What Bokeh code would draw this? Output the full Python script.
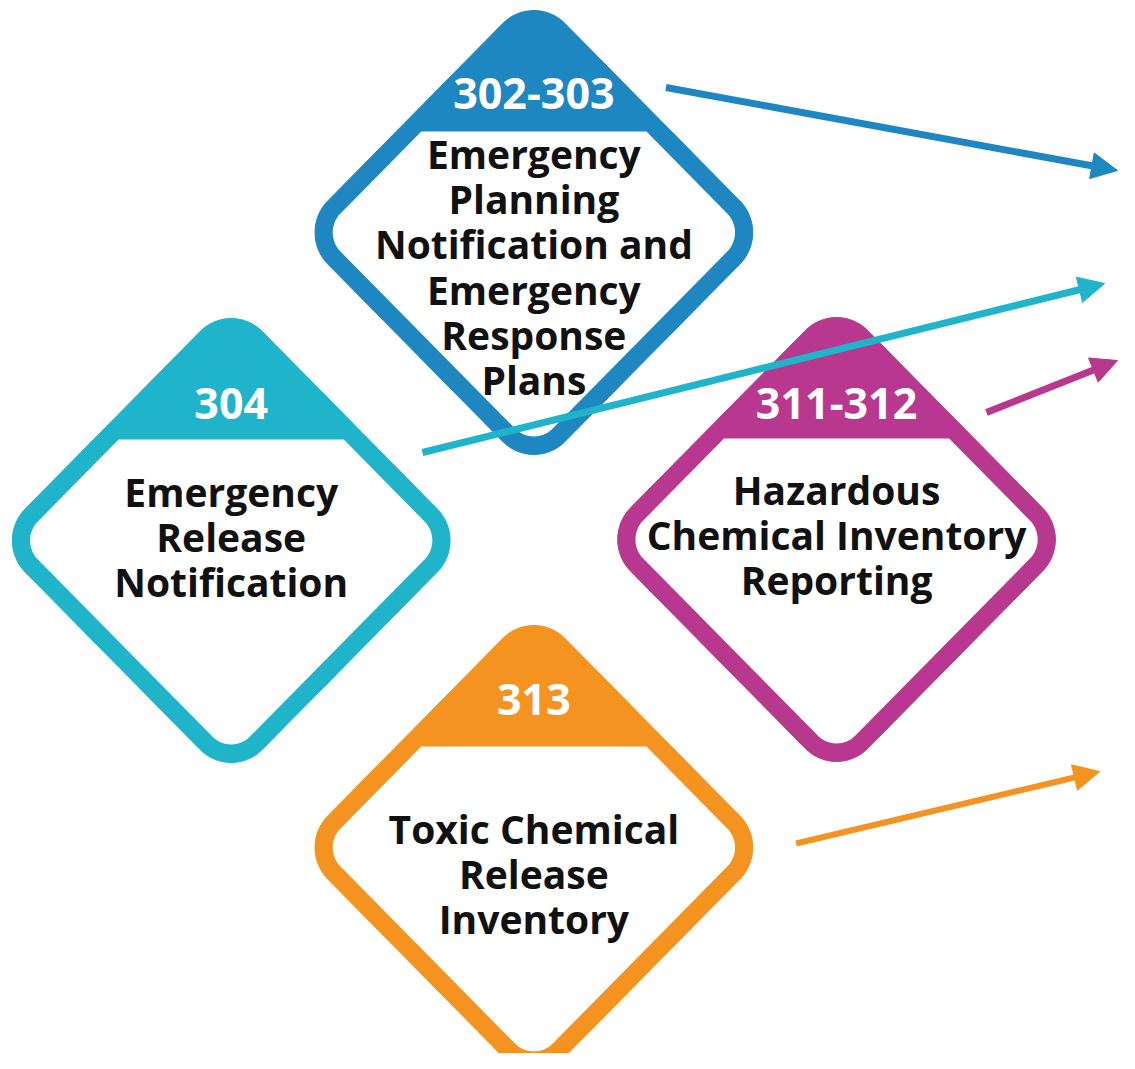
import math
from bokeh.plotting import figure
from bokeh.models import Range1d, Arrow, NormalHead
from bokeh.core.properties import value
from bokeh.embed import file_html
from bokeh.resources import INLINE

# ---- content ----
codes = ["302-303", "304", "311-312", "313"]
titles = [
    ["Emergency", "Planning", "Notification and", "Emergency", "Response", "Plans"],
    ["Emergency", "Release", "Notification"],
    ["Hazardous", "Chemical Inventory", "Reporting"],
    ["Toxic Chemical", "Release", "Inventory"],
]
colors = ["#1E87C1", "#1FB4C9", "#B7388E", "#F4931F"]
center_x = [541, 234, 848, 541]
center_y = [232, 540, 539, 847]
code_y = [93, 403, 403, 699]
first_line_y = [153, 491, 489, 828]

arrow_start_x = [675, 428, 1000, 807]
arrow_start_y = [87, 452, 412, 843]
arrow_end_x = [1133, 1120, 1133, 1115]
arrow_end_y = [170, 283, 360, 771]
arrow_colors = ["#1E87C1", "#1FB4C9", "#B7388E", "#F4931F"]
arrow_widths = [7, 7, 7, 6]

# ---- geometry helpers ----
EXTENT = 222      # centre to rounded tip
R_OUT = 45
THICK = 18
HEADER_OFF = -101
LINE_GAP = 45.2

def rounded_diamond(cx, cy, D, r, n=16):
    xs, ys = [], []
    for theta in (-90, 0, 90, 180):
        t = math.radians(theta)
        vx, vy = cx + D * math.cos(t), cy + D * math.sin(t)
        ax, ay = vx - r * math.sqrt(2) * math.cos(t), vy - r * math.sqrt(2) * math.sin(t)
        for k in range(n + 1):
            a = math.radians(theta - 45 + 90 * k / n)
            xs.append(ax + r * math.cos(a))
            ys.append(ay + r * math.sin(a))
    return xs, ys

def clip_below(xs, ys, y0):
    pts = list(zip(xs, ys))
    out = []
    for i in range(len(pts)):
        p, q = pts[i], pts[(i + 1) % len(pts)]
        pin, qin = p[1] >= y0, q[1] >= y0
        if pin:
            out.append(p)
        if pin != qin:
            t = (y0 - p[1]) / (q[1] - p[1])
            out.append((p[0] + t * (q[0] - p[0]), y0))
    return [a for a, _ in out], [b for _, b in out]

p = figure(width=1119, height=1053, x_range=Range1d(0, 1135), y_range=Range1d(1053, 0),
           output_backend="svg", toolbar_location=None, min_border=0)
p.axis.visible = False
p.grid.visible = False
p.outline_line_color = None
p.background_fill_color = "white"

D_out = EXTENT + R_OUT * (math.sqrt(2) - 1)
D_in = D_out - THICK * math.sqrt(2)
R_in = R_OUT - THICK

for cx, cy, col in zip(center_x, center_y, colors):
    xs, ys = rounded_diamond(cx, cy, D_out, R_OUT)
    p.patch(xs, ys, fill_color=col, line_color=col, line_width=1)
    xs2, ys2 = rounded_diamond(cx, cy, D_in, R_in)
    cxs, cys = clip_below(xs2, ys2, cy + HEADER_OFF)
    p.patch(cxs, cys, fill_color="white", line_color=None)

# header codes
p.text(x=center_x, y=code_y, text=codes, text_color="white",
       text_font=value("Open Sans"), text_font_style="bold", text_font_size="43px",
       text_align="center", text_baseline="alphabetic")

# body text
tx, ty, tt = [], [], []
for i, lines in enumerate(titles):
    for j, line in enumerate(lines):
        tx.append(center_x[i]); ty.append(first_line_y[i] + j * LINE_GAP); tt.append(line)
p.text(x=tx, y=ty, text=tt, text_color="#111111",
       text_font=value("Open Sans"), text_font_style="bold", text_font_size="39px",
       text_align="center", text_baseline="alphabetic")

# arrows
for i in range(4):
    p.add_layout(Arrow(end=NormalHead(size=26, fill_color=arrow_colors[i], line_color=arrow_colors[i]),
                       x_start=arrow_start_x[i], y_start=arrow_start_y[i],
                       x_end=arrow_end_x[i], y_end=arrow_end_y[i],
                       line_color=arrow_colors[i], line_width=arrow_widths[i]))

open("out.html", "w").write(file_html(p, INLINE))
